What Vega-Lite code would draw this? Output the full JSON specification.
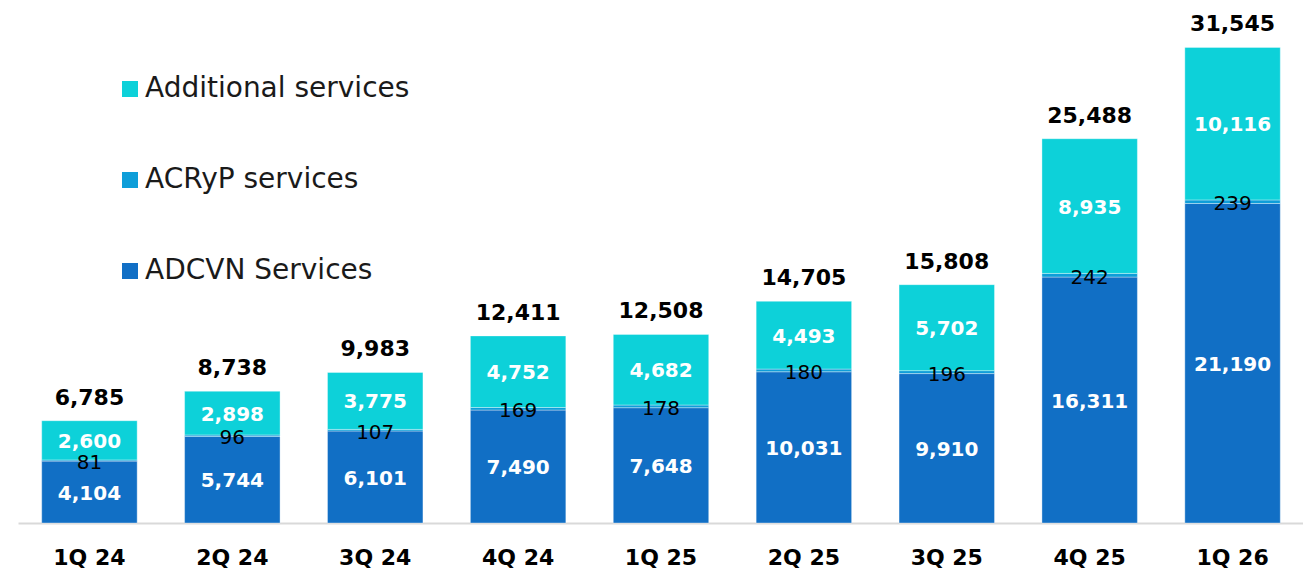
{
  "$schema": "https://vega.github.io/schema/vega-lite/v6.json",
  "width": 1286,
  "height": 513,
  "autosize": {"type": "none"},
  "padding": {"left": 18, "top": 10, "right": 0, "bottom": 47},
  "background": "#ffffff",
  "config": {"view": {"stroke": null}, "font": "DejaVu Sans"},
  "datasets": {
    "parts": [
      {"quarter": "1Q 24", "series": "ADCVN Services", "k": 1, "value": 4104},
      {"quarter": "1Q 24", "series": "ACRyP services", "k": 2, "value": 81},
      {"quarter": "1Q 24", "series": "Additional services", "k": 3, "value": 2600},
      {"quarter": "2Q 24", "series": "ADCVN Services", "k": 1, "value": 5744},
      {"quarter": "2Q 24", "series": "ACRyP services", "k": 2, "value": 96},
      {"quarter": "2Q 24", "series": "Additional services", "k": 3, "value": 2898},
      {"quarter": "3Q 24", "series": "ADCVN Services", "k": 1, "value": 6101},
      {"quarter": "3Q 24", "series": "ACRyP services", "k": 2, "value": 107},
      {"quarter": "3Q 24", "series": "Additional services", "k": 3, "value": 3775},
      {"quarter": "4Q 24", "series": "ADCVN Services", "k": 1, "value": 7490},
      {"quarter": "4Q 24", "series": "ACRyP services", "k": 2, "value": 169},
      {"quarter": "4Q 24", "series": "Additional services", "k": 3, "value": 4752},
      {"quarter": "1Q 25", "series": "ADCVN Services", "k": 1, "value": 7648},
      {"quarter": "1Q 25", "series": "ACRyP services", "k": 2, "value": 178},
      {"quarter": "1Q 25", "series": "Additional services", "k": 3, "value": 4682},
      {"quarter": "2Q 25", "series": "ADCVN Services", "k": 1, "value": 10031},
      {"quarter": "2Q 25", "series": "ACRyP services", "k": 2, "value": 180},
      {"quarter": "2Q 25", "series": "Additional services", "k": 3, "value": 4493},
      {"quarter": "3Q 25", "series": "ADCVN Services", "k": 1, "value": 9910},
      {"quarter": "3Q 25", "series": "ACRyP services", "k": 2, "value": 196},
      {"quarter": "3Q 25", "series": "Additional services", "k": 3, "value": 5702},
      {"quarter": "4Q 25", "series": "ADCVN Services", "k": 1, "value": 16311},
      {"quarter": "4Q 25", "series": "ACRyP services", "k": 2, "value": 242},
      {"quarter": "4Q 25", "series": "Additional services", "k": 3, "value": 8935},
      {"quarter": "1Q 26", "series": "ADCVN Services", "k": 1, "value": 21190},
      {"quarter": "1Q 26", "series": "ACRyP services", "k": 2, "value": 239},
      {"quarter": "1Q 26", "series": "Additional services", "k": 3, "value": 10116}
    ],
    "totals": [
      {"quarter": "1Q 24", "total": 6785},
      {"quarter": "2Q 24", "total": 8738},
      {"quarter": "3Q 24", "total": 9983},
      {"quarter": "4Q 24", "total": 12411},
      {"quarter": "1Q 25", "total": 12508},
      {"quarter": "2Q 25", "total": 14705},
      {"quarter": "3Q 25", "total": 15808},
      {"quarter": "4Q 25", "total": 25488},
      {"quarter": "1Q 26", "total": 31545}
    ]
  },
  "encoding": {
    "x": {
      "field": "quarter",
      "type": "nominal",
      "sort": ["1Q 24", "2Q 24", "3Q 24", "4Q 24", "1Q 25", "2Q 25", "3Q 25", "4Q 25", "1Q 26"],
      "scale": {"paddingInner": 0.332, "paddingOuter": 0.166},
      "axis": {
        "title": null,
        "ticks": false,
        "tickSize": 0,
        "labelAngle": 0,
        "labelFont": "DejaVu Sans",
        "labelFontWeight": "bold",
        "labelFontSize": 22,
        "labelColor": "#000000",
        "labelPadding": 24,
        "domainColor": "#d9d9d9",
        "domainWidth": 2,
        "grid": false
      }
    }
  },
  "layer": [
    {
      "data": {"name": "parts"},
      "transform": [
        {"stack": "value", "groupby": ["quarter"], "sort": [{"field": "k", "order": "ascending"}], "as": ["y0", "y1"]}
      ],
      "mark": {"type": "bar", "stroke": "#ffffff", "strokeWidth": 0.6, "strokeOpacity": 0.6},
      "encoding": {
        "y": {"field": "y1", "type": "quantitative", "scale": {"domain": [0, 34025], "nice": false, "zero": true}, "axis": null},
        "y2": {"field": "y0"},
        "color": {
          "field": "series",
          "type": "nominal",
          "scale": {
            "domain": ["Additional services", "ACRyP services", "ADCVN Services"],
            "range": ["#0DD1D9", "#0E9ED9", "#116FC5"]
          },
          "legend": {
            "title": null,
            "orient": "none",
            "legendX": 98,
            "legendY": 65,
            "symbolType": "square",
            "symbolSize": 256,
            "symbolStrokeWidth": 0,
            "labelFont": "DejaVu Sans",
            "labelFontSize": 28,
            "labelColor": "#1a1a1a",
            "labelOffset": 1,
            "labelLimit": 0,
            "rowPadding": 63,
            "padding": 0
          }
        }
      }
    },
    {
      "data": {"name": "parts"},
      "transform": [
        {"stack": "value", "groupby": ["quarter"], "sort": [{"field": "k", "order": "ascending"}], "as": ["y0", "y1"]},
        {"calculate": "(datum.y0 + datum.y1) / 2", "as": "mid"},
        {"filter": "datum.k != 2"}
      ],
      "mark": {"type": "text", "color": "#ffffff", "fontWeight": "bold", "fontSize": 20, "font": "DejaVu Sans", "baseline": "alphabetic", "dy": 7.5},
      "encoding": {
        "y": {"field": "mid", "type": "quantitative"},
        "text": {"field": "value", "type": "quantitative", "format": ",d"}
      }
    },
    {
      "data": {"name": "parts"},
      "transform": [
        {"stack": "value", "groupby": ["quarter"], "sort": [{"field": "k", "order": "ascending"}], "as": ["y0", "y1"]},
        {"calculate": "(datum.y0 + datum.y1) / 2", "as": "mid"},
        {"filter": "datum.k == 2"}
      ],
      "mark": {"type": "text", "color": "#000000", "fontWeight": "normal", "fontSize": 20, "font": "DejaVu Sans", "baseline": "alphabetic", "dy": 8.5},
      "encoding": {
        "y": {"field": "mid", "type": "quantitative"},
        "text": {"field": "value", "type": "quantitative", "format": ",d"}
      }
    },
    {
      "data": {"name": "totals"},
      "mark": {"type": "text", "color": "#000000", "fontWeight": "bold", "fontSize": 22, "font": "DejaVu Sans", "baseline": "alphabetic", "dy": -16},
      "encoding": {
        "y": {"field": "total", "type": "quantitative"},
        "text": {"field": "total", "type": "quantitative", "format": ",d"}
      }
    }
  ]
}
